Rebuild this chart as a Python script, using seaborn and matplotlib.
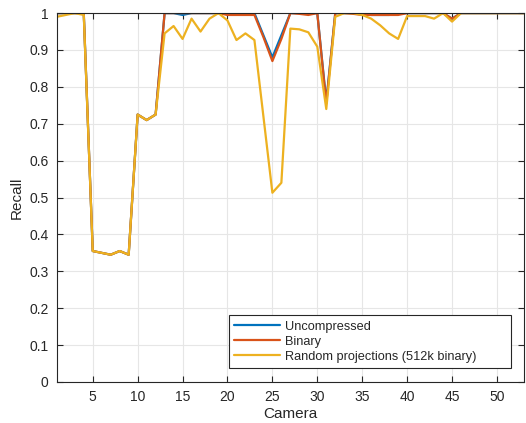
import matplotlib
matplotlib.use("Agg")
import matplotlib.pyplot as plt
import numpy as np
import pandas as pd
import seaborn as sns

cameras = list(range(1, 54))

uncompressed = [1.0, 1.0, 1.0, 1.0, 0.355, 0.35, 0.345, 0.355, 0.345, 0.725,
                0.71, 0.725, 1.0, 1.0, 0.995, 1.0, 1.0, 1.0, 1.0, 0.997,
                1.0, 1.0, 1.0, 0.94, 0.88, 0.94, 1.0, 1.0, 1.0, 1.0,
                0.76, 1.0, 1.0, 1.0, 1.0, 0.995, 0.995, 0.995, 1.0, 1.0,
                1.0, 1.0, 1.0, 1.0, 0.985, 1.0, 1.0, 1.0, 1.0, 1.0,
                1.0, 1.0, 1.0]
binary = [1.0, 1.0, 1.0, 1.0, 0.355, 0.35, 0.345, 0.355, 0.345, 0.725,
          0.71, 0.725, 1.0, 1.0, 1.0, 1.0, 1.0, 1.0, 1.0, 0.995,
          0.995, 0.995, 0.995, 0.935, 0.87, 0.93, 1.0, 0.998, 0.995, 1.0,
          0.755, 1.0, 1.0, 0.998, 0.995, 0.995, 0.995, 0.995, 0.995, 1.0,
          1.0, 1.0, 1.0, 1.0, 0.985, 1.0, 1.0, 1.0, 1.0, 1.0,
          1.0, 1.0, 1.0]
random_proj = [0.99, 0.995, 1.0, 0.995, 0.355, 0.35, 0.345, 0.355, 0.345, 0.725,
               0.71, 0.725, 0.945, 0.965, 0.93, 0.985, 0.95, 0.985, 1.0, 0.98,
               0.927, 0.945, 0.927, 0.72, 0.513, 0.54, 0.958, 0.956, 0.948, 0.909,
               0.74, 0.99, 1.0, 1.0, 0.995, 0.985, 0.967, 0.945, 0.93, 0.992,
               0.992, 0.992, 0.985, 1.0, 0.977, 1.0, 1.0, 1.0, 1.0, 1.0,
               1.0, 1.0, 1.0]

labels = ["Uncompressed", "Binary", "Random projections (512k binary)"]
colors = ["#0072BD", "#D95319", "#EDB120"]

df = pd.concat([
    pd.DataFrame({"Camera": cameras, "Recall": vals, "method": name})
    for name, vals in zip(labels, [uncompressed, binary, random_proj])
])

sns.set_style("whitegrid")
plt.rcParams["font.family"] = ["Liberation Sans", "DejaVu Sans"]

fig = plt.figure(figsize=(5.26, 4.23), dpi=100)
ax = fig.add_axes([0.108, 0.097, 0.888, 0.872])
sns.lineplot(data=df, x="Camera", y="Recall", hue="method", hue_order=labels,
             palette=colors, linewidth=1.6, ax=ax)

ax.set_xlim(1, 53)
ax.set_ylim(0, 1)
ax.set_xticks(np.arange(5, 51, 5))
ax.set_yticks(np.arange(0, 1.01, 0.1))
ax.set_yticklabels(["0", "0.1", "0.2", "0.3", "0.4", "0.5", "0.6", "0.7", "0.8", "0.9", "1"])
ax.tick_params(direction="in", length=4, width=0.8, colors="#262626", labelsize=10,
               top=True, right=True, bottom=True, left=True, pad=6)
ax.grid(True, color="#e6e6e6", linewidth=0.8)
for s in ax.spines.values():
    s.set_visible(True)
    s.set_color("#262626")
    s.set_linewidth(0.8)
ax.set_xlabel("Camera", fontsize=11, color="#262626", labelpad=2)
ax.set_ylabel("Recall", fontsize=11, color="#262626", labelpad=4)

# MATLAB-like legend box: wide, content left aligned
leg = ax.legend(loc="lower left", bbox_to_anchor=(229 / 526, 1 - 368 / 423, 282 / 526, 52 / 423),
                bbox_transform=fig.transFigure, mode="expand", fontsize=9.2,
                frameon=True, fancybox=False, framealpha=1, edgecolor="#262626",
                borderpad=0.4, labelspacing=0.25, handlelength=3.6,
                handletextpad=0.35, borderaxespad=0)
leg.get_frame().set_linewidth(0.8)

fig.savefig("out.png", dpi=100)
